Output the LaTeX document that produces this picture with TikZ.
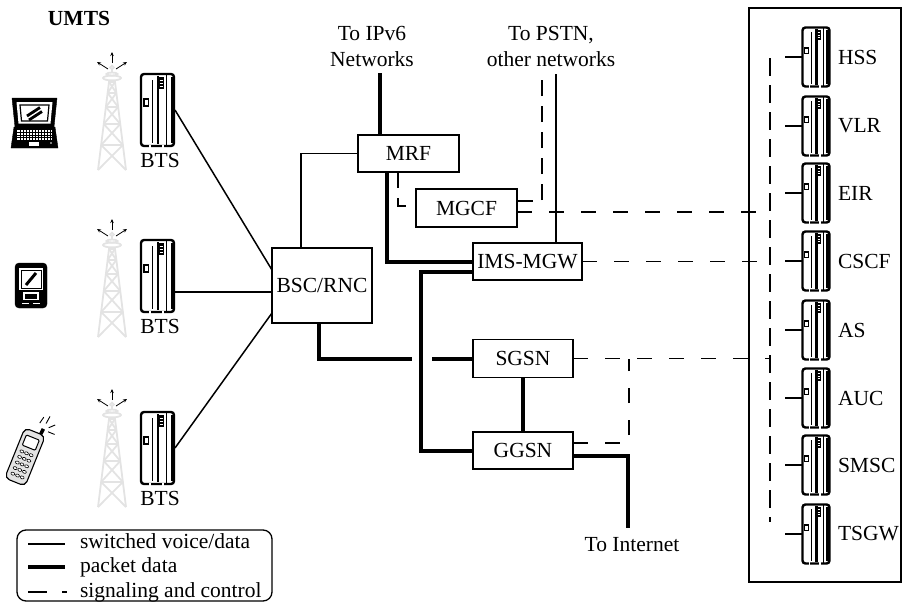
\documentclass[tikz,border=0pt]{standalone}
\usepackage{fontspec}
\setmainfont{Liberation Serif}
\usetikzlibrary{arrows.meta}

\tikzset{
  % equipment cabinet, drawn around its centre
  cabinet/.pic={
    \draw[line width=2.4pt, fill=white, rounded corners=3pt] (-16.5,-36) rectangle (16.5,36);
    \draw[line width=3pt] (14.5,-33) -- (14.5,33);
    \draw[line width=1.1pt] (9,-35) -- (9,35);
    \draw[line width=2.2pt] (0.5,-34) -- (0.5,34);
    \draw[line width=1.1pt] (-5,-30) -- (-5,33);
    \fill (0.5,-33) rectangle (6,-21);
    \draw[white, line width=0.6pt] (2,-30) -- (5,-30) (2,-27) -- (5,-27) (2,-24) -- (5,-24);
    \draw[line width=1.1pt, fill=white] (-13.5,-11) rectangle (-9,-4);
    \fill[white] (-9,34.6) rectangle (-7,38);
    \fill[white] (4,34.6) rectangle (6,38);
  },
  % lattice radio mast with its signal arrows; origin at the dish
  tower/.pic={
    \draw[towercol] (-2.5,0) -- (-14,92) (2.5,0) -- (14,92);
    \foreach \ya/\yb in {4/15,15/29,29/46,46/67,67/92}{
      \draw[towercol] ({-2.5-0.125*\ya},\ya) -- ({2.5+0.125*\yb},\yb)
                      ({2.5+0.125*\ya},\ya) -- ({-2.5-0.125*\yb},\yb)
                      ({-2.5-0.125*\ya},\ya) -- ({2.5+0.125*\ya},\ya);
    }
    \draw[towercol, fill=white] (0,0) ellipse (9 and 2.4);
    \draw[towercol, fill=white] (0,-4) ellipse (5.5 and 1.5);
    \draw[towercol] (0,-5) -- (0,-9);
    \draw[towercol, fill=white] (0,-10.5) circle (1.8);
    \draw[sigarrow] (0,-15) -- (0,-26);
    \draw[sigarrow] (-4,-9) -- (-15,-16);
    \draw[sigarrow] (4,-9) -- (15,-16);
  },
  towercol/.style={draw=gray!22, line width=1.8pt},
  sigarrow/.style={line width=0.8pt, -{Stealth[length=4pt, width=3.5pt]}}
}

\begin{document}
\begin{tikzpicture}[x=1pt, y=-1pt,
  every node/.style={font=\fontsize{21.5}{26}\selectfont, inner sep=0pt, outer sep=0pt},
  nbox/.style={draw, line width=1.6pt, fill=white, minimum height=37, minimum width=100},
  thinln/.style={line width=1.5pt},
  pkt/.style={line width=4pt},
  sig/.style={line width=1.7pt, dash pattern=on 15pt off 17pt},
  sigv/.style={line width=1.7pt, dash pattern=on 16pt off 10pt},
  busln/.style={line width=1.7pt, dash pattern=on 18pt off 9pt},
  btsbox/.style={minimum width=35, minimum height=74},
  dbbox/.style={minimum width=28, minimum height=60}
]
\useasboundingbox (0,0) rectangle (903,605);

% ---------- title ----------
\node[font=\bfseries\fontsize{21.5}{26}\selectfont] (umts) at (79,18) {UMTS};

% ---------- user terminals ----------
% laptop
\filldraw[black] (12,98) -- (57,98) -- (54,127) -- (15,127) -- cycle;
\fill[white] (16.5,102) -- (52.5,102) -- (50.5,123.5) -- (18.5,123.5) -- cycle;
\draw[line width=1.2pt] (20,105) -- (49,105) -- (47.5,121) -- (21.5,121) -- cycle;
\draw[line width=2.8pt] (27,116) -- (40,107.5) (29,120) -- (42,111.5);
\filldraw[black] (14,127) -- (55,127) -- (58,148) -- (11,148) -- cycle;
\fill[white] (17,130) rectangle (52,140);
\foreach \kx in {20,23,...,50} \draw[line width=0.8pt] (\kx,130) -- (\kx,140);
\foreach \ky in {132.5,135,137.5} \draw[line width=0.8pt] (17,\ky) -- (52,\ky);
\fill[white] (29,141.5) rectangle (39,146);
\fill[white] (51,143) circle (0.9);

% handheld organiser
\filldraw[black, rounded corners=4pt] (15,263) rectangle (47,308);
\fill[white] (19,268) rectangle (43,290);
\draw[line width=1pt] (21,270) rectangle (41,288);
\draw[line width=3pt] (26,285) -- (36,273);
\fill[white] (23,292) rectangle (39,300);
\fill[black] (25,294) rectangle (37,298.5);
\draw[white, line width=1pt] (22,303) -- (29,303) (33,303) -- (40,303);

% mobile handset
\begin{scope}[shift={(25,457)}, rotate=-22]
  \draw[line width=1.1pt, fill=gray!22, rounded corners=5pt] (-11,-27) rectangle (11,27);
  \draw[line width=1pt, fill=white, rounded corners=1pt] (-7,-21) rectangle (7,-10);
  \foreach \ky in {-4,2,8,14,20}
    \foreach \kx in {-5,0,5}
      \draw[line width=0.6pt, fill=white] (\kx,\ky) ellipse (2 and 1.4);
  \draw[line width=3.5pt] (6,-27) -- (6.5,-33);
  \draw[line width=0.9pt] (1,-37) -- (2.5,-44) (7,-39) -- (8,-47) (11,-36) -- (16,-41) (12,-32) -- (19,-32);
\end{scope}

% ---------- radio masts and base stations ----------
\pic at (112,78) {tower};
\pic at (112,245) {tower};
\pic at (112,415) {tower};

\node[btsbox] (bts1) at (157.5,110) {};
\node[btsbox] (bts2) at (157.5,276) {};
\node[btsbox] (bts3) at (157.5,448) {};
\pic at (bts1) {cabinet};
\pic at (bts2) {cabinet};
\pic at (bts3) {cabinet};
\node (bts1lab) at (160,160) {BTS};
\node (bts2lab) at (160,326) {BTS};
\node (bts3lab) at (160,498) {BTS};

% ---------- core network elements ----------
\node[nbox, minimum width=100, minimum height=75] (bsc) at (322,285.5) {BSC/RNC};
\node[nbox, minimum width=101] (mrf) at (408.5,153.5) {MRF};
\node[nbox, minimum width=101, minimum height=38] (mgcf) at (466.5,208) {MGCF};
\node[nbox, minimum width=109] (ims) at (527.5,261.5) {IMS-MGW};
\node[nbox, minimum height=38] (sgsn) at (523,358.5) {SGSN};
\node[nbox] (ggsn) at (523,450.5) {GGSN};

% external network labels and their line ends
\node[align=center] (ipv6) at (372,46) {To IPv6\\Networks};
\node[align=center] (pstn) at (551,46) {To PSTN,\\other networks};
\node (inet) at (632,545) {To Internet};
\coordinate (ipv6end) at (380,73);
\coordinate (pstnend) at (556,74);
\coordinate (pstnsig) at (542,70);
\coordinate (inetend) at (628,528);

% ---------- service platform ----------
\node[draw, line width=1.6pt, minimum width=152, minimum height=574] (core) at (825,295) {};
\coordinate (busTop) at (770,58);
\coordinate (busBot) at (770,522);
\draw[busln] (busTop) -- (busBot);
\foreach \n/\yy in {HSS/57, VLR/126, EIR/193, CSCF/261, AS/330, AUC/398, SMSC/465, TSGW/534}{
  \node[dbbox] (db\n) at (816,\yy) {};
  \pic[scale=0.82] at (db\n) {cabinet};
  \node[anchor=west] (lab\n) at ([xshift=8pt]db\n.east) {\n};
  \draw[thinln] (db\n.west) -- ++(-17,0);
}

% ---------- switched voice/data links ----------
\draw[thinln] (bts1.east) -- ([yshift=15.5pt]bsc.west);
\coordinate (bscin2) at ([yshift=-6.5pt]bsc.west);
\draw[thinln] (bts2.east |- bscin2) -- (bscin2);
\draw[thinln] (bts3.east) -- ([yshift=-27.5pt]bsc.west);
\draw[thinln] (mrf.west) -| ([xshift=-21pt]bsc.north);
\draw[thinln] (pstnend) -- (pstnend |- ims.north);

% ---------- packet data links ----------
\draw[pkt] (ipv6end) -- (ipv6end |- mrf.north);
\draw[pkt] ([xshift=-21.5pt]mrf.south) |- (ims.west);
\draw[pkt] ([yshift=-10.5pt]ims.west) -- ++(-52,0) |- (ggsn.west);
\draw[pkt] ([xshift=-3pt]bsc.south) |- ([xshift=-61pt]sgsn.west);
\draw[pkt] ([xshift=-41pt]sgsn.west) -- (sgsn.west);
\draw[pkt] (sgsn.south) -- (ggsn.north);
\draw[pkt] ([yshift=-5.5pt]ggsn.east) -| (inetend);

% ---------- signaling and control links ----------
\draw[sigv] ([xshift=-10.5pt]mrf.south) |- ([yshift=2pt]mgcf.west);
\draw[sigv] ([yshift=7pt]mgcf.east) -| (pstnsig);
\coordinate (m1) at ([yshift=-4pt]mgcf.east);
\draw[sig] (m1) -- (m1 -| busTop);
\draw[sig] (ims.east) -- (ims.east -| busTop);
\draw[sig] (sgsn.east) -- (sgsn.east -| busTop);
\coordinate (g1) at ([yshift=7.5pt]ggsn.east);
\coordinate (tap) at ([xshift=56pt]sgsn.east);
\draw[sig] (g1) -| (tap);

% ---------- legend ----------
\node[draw, rounded corners=9pt, line width=1.3pt, minimum width=255, minimum height=71] (legend) at (144.5,565.5) {};
\draw[thinln] (28,544) -- (65,544);
\draw[pkt] (28,567) -- (65,567);
\draw[line width=1.6pt] (28,592) -- (47,592) (62,592) -- (67,592);
\node[anchor=base west] (lg1) at (80,548) {switched voice/data};
\node[anchor=base west] (lg2) at (80,572) {packet data};
\node[anchor=base west] (lg3) at (80,597) {signaling and control};
\end{tikzpicture}
\end{document}
